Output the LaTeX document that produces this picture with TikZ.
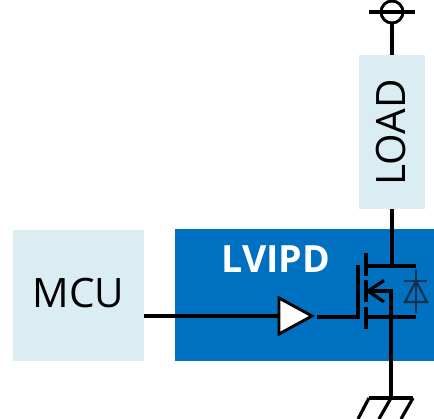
\documentclass[tikz,border=0pt]{standalone}
\usepackage{fontspec}
\setmainfont{Open Sans}
\definecolor{boxfill}{HTML}{DAEDF3}
\definecolor{chipblue}{HTML}{0070C0}
\definecolor{diodecol}{HTML}{14304F}
\tikzset{
  x=1pt,y=-1pt,
  wire/.style={draw=black,line width=3.2pt},
  lightbox/.style={fill=boxfill,inner sep=0pt,text=black},
  boxtext/.style={inner sep=0pt,text=black,font=\fontsize{40.5}{40.5}\selectfont},
  diodeline/.style={draw=diodecol,line width=2.2pt,line join=miter}
}
\begin{document}
\begin{tikzpicture}
\useasboundingbox (0,0) rectangle (434,419);
\fill[chipblue] (175,229) rectangle (434,361);
\node[lightbox,minimum width=131pt,minimum height=131pt] (mcu) at (78.5,295.5) {};
\node[boxtext] (mcutext) at (78.5,293.5) {MCU};
\node[lightbox,minimum width=66pt,minimum height=154pt] (load) at (392,132) {};
\node[boxtext,rotate=90] (loadtext) at (391.5,132.5) {LOAD};
\node[font=\bfseries\fontsize{37.5}{37.5}\selectfont,text=white] (lvipd) at (276,259.5) {LVIPD};
% buffer
\coordinate (bufw) at (279,316);
\filldraw[fill=white,draw=black,line width=2.9pt,line join=miter] (279,298) -- (312,316) -- (279,334) -- cycle;
\draw[wire] (mcu.east |- bufw) -- (bufw);
% gate
\coordinate (gatein) at (317,317);
\coordinate (gatecorner) at (358,317);
\coordinate (gatetop) at (358,265);
\draw[wire,line join=miter] (gatein) -- (gatecorner) -- (gatetop);
% channel
\draw[wire] (366,253) -- (366,276);
\draw[wire] (366,280) -- (366,302);
\draw[wire] (366,307) -- (366,329);
% drain
\coordinate (drain) at (392,266);
\draw[wire] (366,266) -- (416,266);
\draw[wire] (load.south -| drain) -- (drain);
% source
\draw[wire] (366,317) -- (416,317);
% arrow and body
\coordinate (gnd) at (391,398);
\draw[wire,line join=miter] (369,291) -- (391,291) -- (gnd);
\draw[wire,line join=miter] (384,280.5) -- (368,291) -- (384,302);
% diode
\draw[diodeline] (416,269) -- (416,313);
\draw[diodeline] (404,281) -- (427,281);
\draw[diodeline] (416,281) -- (405,302) -- (427,302) -- cycle;
% ground
\draw[wire] (369,398) -- (413,398);
\draw[wire] (369,398) -- (358,419);
\draw[wire] (391,398) -- (379,419);
\draw[wire] (413,398) -- (401,419);
% supply
\node[draw=black,circle,line width=2.9pt,minimum size=22pt,inner sep=0pt] (sup) at (392,12) {};
\draw[wire] (369,12) -- (415,12);
\draw[wire] (sup.south) -- (load.north);
\end{tikzpicture}
\end{document}
